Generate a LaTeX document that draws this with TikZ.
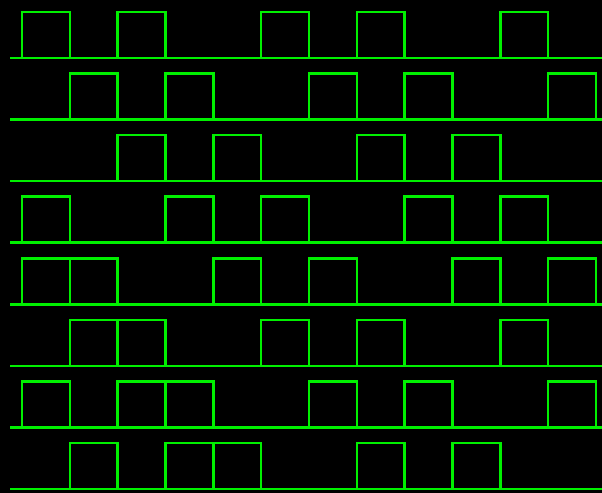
\documentclass[tikz,border=0pt]{standalone}
\usepackage{xcolor}
\definecolor{sig}{HTML}{00F000}
\begin{document}
\begin{tikzpicture}[x=0.03cm,y=-0.03cm,
		wire/.style={draw=sig,line width=2.1pt},
		]
		% background and frame
		\fill[black] (0,0) rectangle (602,493);
		\useasboundingbox (0,0) rectangle (602,493);
		% one line per row: row index / slots that are high
		\foreach \row/\slots in {0/{0,2,5,7,10},1/{1,3,6,8,11},2/{2,4,7,9},3/{0,3,5,8,10},
			4/{0,1,4,6,9,11},5/{1,2,5,7,10},6/{0,2,3,6,8,11},7/{1,3,4,7,9}}{
			\pgfmathsetmacro{\yb}{58+61.57*\row}
			\draw[wire] (10,\yb) -- (602,\yb);
			\foreach \k in \slots {
				\pgfmathsetmacro{\xa}{22+47.83*\k}
				\draw[wire] (\xa,\yb) -- (\xa,\yb-46) -- (\xa+47.83,\yb-46) -- (\xa+47.83,\yb);
			}
		}
\end{tikzpicture}
\end{document}
